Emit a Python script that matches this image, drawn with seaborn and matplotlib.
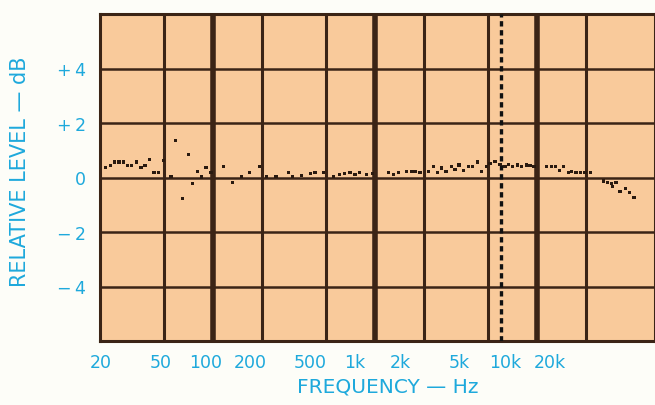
import matplotlib
matplotlib.use("Agg")
import matplotlib.pyplot as plt
import numpy as np
import pandas as pd
import seaborn as sns

# measured response, frequency in Hz and level in dB
freq_hz = [
    21.5, 23.1, 24.5, 26.2, 27.8, 29.7, 31.4, 33.5, 35.8, 37.9, 40.3, 43.1,
    45.8, 49.2, 54.9, 58.7, 64.4, 70.2, 74.7, 80.2, 84.9, 90.2, 96.8,
    115, 132, 150, 167, 194, 214, 244, 290, 310, 352, 396, 425, 478, 551,
    605, 650, 698, 750, 798, 886, 964,
    1205, 1292, 1388, 1564, 1664, 1758, 1888, 2128, 2280, 2432, 2572, 2734,
    2938, 3106, 3288, 3498, 3752, 3972, 4288, 4540, 4876, 5108, 5486, 5888,
    6320, 6620, 7016, 7534, 8018, 8532, 9020, 9550,
    11430, 12280, 12880, 13680, 14490, 15560, 16330, 17340, 18540, 19720,
    21180, 25580, 27220, 28840, 29180, 30620, 32430, 34840, 36980, 39540,
]
level_db = [
    0.36, 0.45, 0.57, 0.57, 0.57, 0.45, 0.45, 0.57, 0.36, 0.45, 0.65, 0.17,
    0.17, 0.64, 0.05, 1.36, -0.78, 0.84, -0.21, 0.23, 0.02, 0.38, 0.19,
    0.39, -0.17, 0.05, 0.17, 0.39, 0.05, 0.05, 0.17, 0.05, 0.07, 0.15, 0.17,
    0.17, 0.05, 0.10, 0.15, 0.17, 0.10, 0.17, 0.10, 0.15,
    0.19, 0.10, 0.17, 0.23, 0.23, 0.23, 0.19, 0.23, 0.39, 0.17, 0.35, 0.23,
    0.39, 0.29, 0.46, 0.27, 0.39, 0.39, 0.57, 0.23, 0.39, 0.53, 0.59, 0.47,
    0.41, 0.47, 0.41, 0.46, 0.39, 0.46, 0.44, 0.39,
    0.41, 0.41, 0.41, 0.27, 0.39, 0.17, 0.23, 0.19, 0.17, 0.17,
    0.19, -0.13, -0.19, -0.23, -0.34, -0.17, -0.53, -0.41, -0.56, -0.74,
]

grid_freqs = [20, 50, 100, 200, 500, 1000, 2000, 5000, 10000, 20000]
freq_labels = ["20", "50", "100", "200", "500", "1k", "2k", "5k", "10k", "20k"]
decade_freqs = [100, 1000, 10000]
level_ticks = [-4, -2, 0, 2, 4]
level_labels = ["\u2212\u20094", "\u2212\u20092", "0", "+\u20092", "+\u20094"]
marker_freq = 6000

CYAN = "#1ea9dc"
BROWN = "#3b2416"
PAPER = "#f9ca9b"

sns.set_style("white")
plt.rcParams["font.family"] = ["DejaVu Sans"]

fig = plt.figure(figsize=(6.55, 4.06), dpi=100, facecolor="#fdfdf8")
ax = fig.add_axes([100 / 655, 1 - 342 / 406, 555 / 655, 327 / 406])
ax.set_facecolor(PAPER)
ax.set_xscale("log")
ax.set_xlim(20, 53300)
ax.set_ylim(-6, 6)

for f in grid_freqs[1:]:
    lw = 4.0 if f in decade_freqs else 2.2
    ax.axvline(f, color=BROWN, lw=lw, zorder=1)
for v in level_ticks:
    ax.axhline(v, color=BROWN, lw=1.8, zorder=1)

ax.axvline(marker_freq, color="#111111", lw=2.4, ls=(0, (1.6, 1.1)), zorder=3)

df = pd.DataFrame({"freq": freq_hz, "level": level_db})
sns.scatterplot(data=df, x="freq", y="level", ax=ax, marker="s", s=5,
                color="#2a1a10", edgecolor="none", zorder=4, legend=False)

for side in ["left", "right", "top", "bottom"]:
    ax.spines[side].set_color(BROWN)
    ax.spines[side].set_linewidth(2.2)
    ax.spines[side].set_visible(True)

ax.set_yticks(level_ticks)
ax.set_yticklabels(level_labels)
ax.tick_params(axis="y", length=0, pad=10, labelsize=12.5, labelcolor=CYAN)
ax.set_xticks([])
ax.minorticks_off()
ax.set_ylabel("RELATIVE LEVEL \u2014 dB", color=CYAN, fontsize=15)
ax.yaxis.set_label_coords(-0.126, 0.521)
ax.set_xlabel("FREQUENCY \u2014 Hz", color=CYAN, fontsize=14.5)
ax.xaxis.set_label_coords(0.519, -0.108)


# the printed scale labels drift left of the grid lines on the original sheet
def to_label(x):
    x = np.maximum(np.asarray(x, dtype=float), 1e-9)
    return 20 * 10 ** ((np.log10(x / 20) - 0.0068) / 0.923)


def from_label(x):
    x = np.maximum(np.asarray(x, dtype=float), 1e-9)
    return 20 * 10 ** (0.923 * np.log10(x / 20) + 0.0068)


sec = ax.secondary_xaxis("bottom", functions=(to_label, from_label))
sec.set_xticks(grid_freqs)
sec.set_xticklabels(freq_labels)
sec.minorticks_off()
sec.tick_params(length=0, pad=9, labelsize=12.5, labelcolor=CYAN)
sec.spines["bottom"].set_visible(False)

fig.savefig("out.png", dpi=100, facecolor=fig.get_facecolor())
